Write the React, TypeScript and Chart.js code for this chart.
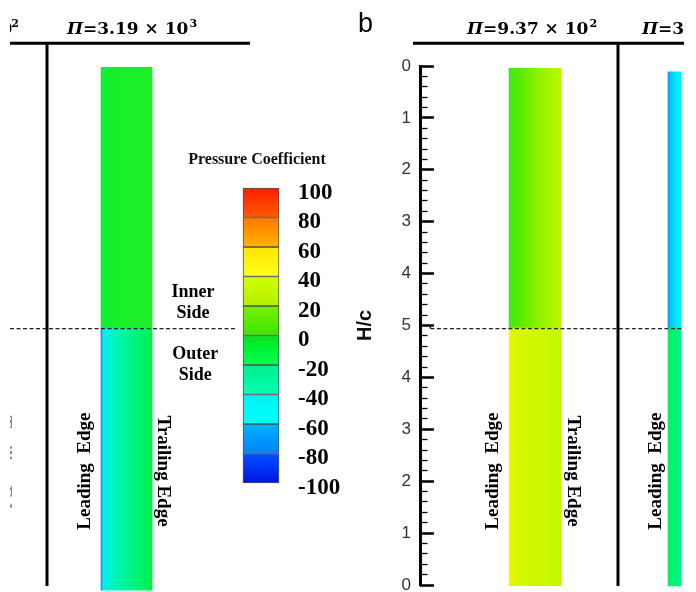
import React, { useEffect, useRef } from 'react';
import { Chart, registerables } from 'chart.js';

Chart.register(...registerables);

// ---------------- DATA ----------------
// H/c axis (value = distance from the outer tip; labels fold back at the junction H/c = 5)
const HC_TICK_VALUES = [0, 1, 2, 3, 4, 5, 6, 7, 8, 9, 10];
const HC_TICK_LABELS = ['0', '1', '2', '3', '4', '5', '4', '3', '2', '1', '0'];
const HC_MINOR_TICKS = Array.from({ length: 51 }, (_, i) => i / 5);

// Pressure-coefficient colour bar
const CP_LEVELS = [-100, -80, -60, -40, -20, 0, 20, 40, 60, 80, 100];
const CP_LABELS = ['-100', '-80', '-60', '-40', '-20', '0', '20', '40', '60', '80', '100'];

// Panels (Π numbers)
const PANEL_PI_MANTISSA = ['3.19', '9.37', '3'];
const PANEL_PI_EXPONENT = ['3', '2', ''];

// Blade strips: H/c spans of the outer / inner side of each panel
const OUTER_SPAN = [[-0.1, 4.95], [-0.013, 4.95], [-0.02, 4.95]];
const INNER_SPAN = [[4.95, 9.975], [4.95, 9.955], [4.95, 9.89]];

const CHORD_STATIONS = [0, 0.04, 0.25, 0.5, 0.75, 1];
const CP_OUTER = [
  [-72, -48, -36, -28, -20, -12],
  [50, 40, 36, 34, 32, 30],
  [-18, -19, -21, -22, -23, -24],
];
const CP_INNER = [
  [-6, -6, -5, -4, -4, -3],
  [2, 5, 11, 18, 24, 28],
  [-76, -66, -58, -54, -50, -48],
];

// ---------------- STYLE / LAYOUT ----------------
const STRIP_X = [-5.652, 2.215, 4.901]; // chord units from the H/c axis
const STRIP_WIDTH_PX = [51, 52, 13];
const COLORBAR_X = -3.062;
const COLORBAR_WIDTH_PX = 36;

const CP_BAND_TOP = ['#0050ff', '#00b4ff', '#00f0f0', '#00f08c', '#00e61e', '#78f000', '#d2ff00', '#ffe600', '#ff7800', '#ff1e00'];
const CP_BAND_BOTTOM = ['#0014e6', '#0080ff', '#00ffff', '#00ffb4', '#00ff50', '#3ce600', '#b4f000', '#ffff1e', '#ffb400', '#ff5a00'];

const CMAP_CP = [-90, -70, -50, -30, -10, 10, 30, 50, 70, 90];
const CMAP_RGB = [
  [0, 50, 245], [0, 150, 255], [0, 240, 248], [0, 245, 160], [0, 240, 60],
  [90, 235, 0], [195, 248, 0], [255, 245, 10], [255, 150, 0], [255, 60, 0],
];

const CONTENT_X = [-7.895, 5.084];
const RULE_Y = 10.44;
const FRAME_BOTTOM_Y = -0.02;
const RULE_A = [-7.895, -3.274];
const RULE_B = [-0.135, 5.084];
const VLINE_A = -7.183;
const VLINE_B = 3.813;
const DASH_A = [-7.895, -3.562];
const DASH_B = [0.2, 5.084];
const DASH_Y = 4.94;

const SERIF = '"Liberation Serif", "Times New Roman", serif';
const MATH = '"DejaVu Serif", serif';
const SANS = '"Liberation Sans", Arial, sans-serif';

function cpColor(v: number): string {
  if (v <= CMAP_CP[0]) return `rgb(${CMAP_RGB[0].join(',')})`;
  const n = CMAP_CP.length - 1;
  if (v >= CMAP_CP[n]) return `rgb(${CMAP_RGB[n].join(',')})`;
  let k = 0;
  while (v > CMAP_CP[k + 1]) k++;
  const t = (v - CMAP_CP[k]) / (CMAP_CP[k + 1] - CMAP_CP[k]);
  const c = CMAP_RGB[k].map((a, j) => Math.round(a + (CMAP_RGB[k + 1][j] - a) * t));
  return `rgb(${c.join(',')})`;
}

function stripFill(i: number, cps: number[]) {
  return (c: any) => {
    const chart = c.chart;
    const xs = chart.scales && chart.scales.x;
    if (!chart.chartArea || !xs) return cpColor(cps[2]);
    const cx = xs.getPixelForValue(STRIP_X[i]);
    const w = STRIP_WIDTH_PX[i];
    const g = chart.ctx.createLinearGradient(cx - w / 2, 0, cx + w / 2, 0);
    CHORD_STATIONS.forEach((s, k) => g.addColorStop(s, cpColor(cps[k])));
    return g;
  };
}

function drawPiTitle(ctx: CanvasRenderingContext2D, x: number, y: number, mant: string, exp: string) {
  ctx.textAlign = 'left';
  ctx.textBaseline = 'alphabetic';
  ctx.font = `italic bold 17px ${MATH}`;
  ctx.fillText('Π', x, y);
  x += ctx.measureText('Π').width;
  ctx.font = `bold 17px ${MATH}`;
  const rest = exp ? `=${mant} × 10` : `=${mant}`;
  ctx.fillText(rest, x, y);
  x += ctx.measureText(rest).width;
  if (exp) {
    ctx.font = `bold 11px ${MATH}`;
    ctx.fillText(exp, x + 1, y - 7);
  }
}

function rotText(ctx: CanvasRenderingContext2D, text: string, x: number, y: number, angle: number) {
  ctx.save();
  ctx.translate(x, y);
  ctx.rotate(angle);
  ctx.textAlign = 'center';
  ctx.textBaseline = 'middle';
  ctx.fillText(text, 0, 0);
  ctx.restore();
}

const decorPlugin = {
  id: 'figureDecor',
  afterDraw(chart: any) {
    const { ctx } = chart;
    const xs = chart.scales.x;
    const ys = chart.scales.y;
    const X = (v: number) => xs.getPixelForValue(v);
    const Y = (v: number) => ys.getPixelForValue(v);
    ctx.save();
    ctx.beginPath();
    ctx.rect(X(CONTENT_X[0]), 0, X(CONTENT_X[1]) - X(CONTENT_X[0]), chart.height);
    ctx.clip();

    // panel frames
    ctx.strokeStyle = '#000';
    ctx.lineWidth = 3;
    ctx.beginPath();
    ctx.moveTo(X(RULE_A[0]), Y(RULE_Y)); ctx.lineTo(X(RULE_A[1]), Y(RULE_Y));
    ctx.moveTo(X(RULE_B[0]), Y(RULE_Y)); ctx.lineTo(X(RULE_B[1]), Y(RULE_Y));
    ctx.moveTo(X(VLINE_A), Y(RULE_Y)); ctx.lineTo(X(VLINE_A), Y(FRAME_BOTTOM_Y));
    ctx.moveTo(X(VLINE_B), Y(RULE_Y)); ctx.lineTo(X(VLINE_B), Y(FRAME_BOTTOM_Y));
    ctx.stroke();

    // junction dashed lines
    ctx.strokeStyle = '#222';
    ctx.lineWidth = 1.3;
    ctx.setLineDash([4, 2.5]);
    ctx.beginPath();
    ctx.moveTo(X(DASH_A[0]), Y(DASH_Y)); ctx.lineTo(X(DASH_A[1]), Y(DASH_Y));
    ctx.moveTo(X(DASH_B[0]), Y(DASH_Y)); ctx.lineTo(X(DASH_B[1]), Y(DASH_Y));
    ctx.stroke();
    ctx.setLineDash([]);
    // small step joining the "5" tick to the dashed line
    ctx.lineWidth = 1.5;
    ctx.beginPath();
    ctx.moveTo(X(0.2), Y(5));
    ctx.lineTo(X(0.2), Y(DASH_Y));
    ctx.stroke();

    // titles
    ctx.fillStyle = '#000';
    const baseY = Y(10.61);
    drawPiTitle(ctx, X(-6.798), baseY, PANEL_PI_MANTISSA[0], PANEL_PI_EXPONENT[0]);
    drawPiTitle(ctx, X(0.905), baseY, PANEL_PI_MANTISSA[1], PANEL_PI_EXPONENT[1]);
    drawPiTitle(ctx, X(4.275), baseY, PANEL_PI_MANTISSA[2], PANEL_PI_EXPONENT[2]);
    // tail of the previous panel title
    ctx.font = `bold 11px ${MATH}`;
    ctx.textAlign = 'right';
    const supEnd = X(-7.722);
    ctx.fillText('2', supEnd, baseY - 7);
    const supW = ctx.measureText('2').width;
    ctx.font = `bold 17px ${MATH}`;
    ctx.fillText('10', supEnd - supW + 1, baseY);

    ctx.font = `27px ${SANS}`;
    ctx.textAlign = 'left';
    ctx.fillText('b', X(-1.194), Y(10.649));

    // colour bar caption
    ctx.font = `bold 16px ${SERIF}`;
    ctx.textAlign = 'center';
    ctx.textBaseline = 'middle';
    ctx.fillStyle = '#111';
    ctx.fillText('Pressure Coefficient', X(-3.139), Y(8.184));

    ctx.font = `bold 18px ${SERIF}`;
    ctx.fillStyle = '#000';
    ctx.fillText('Inner', X(-4.371), Y(5.642));
    ctx.fillText('Side', X(-4.371), Y(5.228));
    ctx.fillText('Outer', X(-4.33), Y(4.448));
    ctx.fillText('Side', X(-4.33), Y(4.034));

    // edge labels
    ctx.font = `bold 19px ${SERIF}`;
    const ly = Y(2.195);
    rotText(ctx, 'Leading  Edge', X(-6.451), ly, -Math.PI / 2);
    rotText(ctx, 'Trailing Edge', X(-4.959), ly, Math.PI / 2);
    rotText(ctx, 'Leading  Edge', X(1.415), ly, -Math.PI / 2);
    rotText(ctx, 'Trailing Edge', X(2.946), ly, Math.PI / 2);
    rotText(ctx, 'Leading  Edge', X(4.545), ly, -Math.PI / 2);
    // edge label of the neighbouring (cropped) panel
    ctx.fillStyle = '#888';
    rotText(ctx, 'Trailing Edge', X(-8.01), ly, Math.PI / 2);

    ctx.restore();
  },
};

const tickAxis = (weight: number, ticks: number[], len: number, width: number) => ({
  type: 'linear',
  position: 'left',
  weight,
  min: 0,
  max: 10,
  afterBuildTicks: (s: any) => { s.ticks = ticks.map((v) => ({ value: v })); },
  afterFit: (s: any) => { s.width = 0; },
  grid: {
    display: true,
    drawOnChartArea: false,
    drawTicks: true,
    tickLength: len,
    tickWidth: width,
    tickColor: '#000',
  },
  border: { display: false },
  ticks: { display: false, padding: 0 },
});

export default function App() {
  const ref = useRef<HTMLCanvasElement | null>(null);

  useEffect(() => {
    if (!ref.current) return;
    const stripSets: any[] = [];
    STRIP_X.forEach((sx, i) => {
      stripSets.push({
        label: `Outer side ${i}`,
        data: [{ x: sx, y: OUTER_SPAN[i] }],
        backgroundColor: stripFill(i, CP_OUTER[i]),
        barThickness: STRIP_WIDTH_PX[i],
        borderWidth: 0,
        grouped: false,
        clip: false,
        xAxisID: 'x',
        yAxisID: 'y',
      });
      stripSets.push({
        label: `Inner side ${i}`,
        data: [{ x: sx, y: INNER_SPAN[i] }],
        backgroundColor: stripFill(i, CP_INNER[i]),
        barThickness: STRIP_WIDTH_PX[i],
        borderWidth: 0,
        grouped: false,
        clip: false,
        xAxisID: 'x',
        yAxisID: 'y',
      });
    });
    const colorbar = {
      label: 'Pressure Coefficient',
      data: CP_LEVELS.slice(0, -1).map((lo, i) => ({ x: COLORBAR_X, y: [lo, CP_LEVELS[i + 1]] })),
      backgroundColor: (c: any) => {
        const chart = c.chart;
        const yc = chart.scales && chart.scales.yc;
        const i = c.dataIndex;
        if (!chart.chartArea || !yc || i === undefined) return '#0f0';
        const g = chart.ctx.createLinearGradient(0, yc.getPixelForValue(CP_LEVELS[i + 1]), 0, yc.getPixelForValue(CP_LEVELS[i]));
        g.addColorStop(0, CP_BAND_TOP[i]);
        g.addColorStop(1, CP_BAND_BOTTOM[i]);
        return g;
      },
      borderColor: 'rgba(50,50,50,0.85)',
      borderWidth: 1,
      borderSkipped: false,
      barThickness: COLORBAR_WIDTH_PX,
      grouped: false,
      clip: false,
      xAxisID: 'x',
      yAxisID: 'yc',
    };

    const chart = new Chart(ref.current, {
      type: 'bar',
      data: { datasets: [...stripSets, colorbar] as any },
      options: {
        responsive: false,
        animation: false,
        devicePixelRatio: 1,
        events: [],
        layout: { autoPadding: false, padding: { left: 298, top: 66, right: 0, bottom: 7 } },
        plugins: { legend: { display: false }, tooltip: { enabled: false } },
        scales: {
          x: { type: 'linear', display: false, offset: false, grid: { offset: false }, min: 0, max: 5.315 },
          yc: {
            type: 'linear',
            position: 'left',
            weight: 3,
            min: -169.15,
            max: 182.7,
            afterBuildTicks: (s: any) => { s.ticks = CP_LEVELS.map((v) => ({ value: v })); },
            afterFit: (s: any) => { s.width = 55; },
            grid: { display: false },
            border: { display: false },
            ticks: {
              autoSkip: false,
              crossAlign: 'far',
              labelOffset: 5,
              padding: 0,
              color: '#000',
              font: { family: 'Liberation Serif', size: 23, weight: 'bold', lineHeight: 0.4 },
              callback: (_v: any, i: number) => CP_LABELS[i],
            },
          },
          y: {
            type: 'linear',
            position: 'left',
            weight: 2,
            min: 0,
            max: 10,
            afterBuildTicks: (s: any) => { s.ticks = HC_TICK_VALUES.map((v) => ({ value: v })); },
            afterFit: (s: any) => { s.width = 67; },
            grid: {
              display: true,
              drawOnChartArea: false,
              drawTicks: true,
              tickLength: 9,
              tickWidth: 0,
              tickColor: 'rgba(0,0,0,0)',
            },
            border: { display: true, width: 3, color: '#000' },
            title: {
              display: true,
              text: 'H/c',
              color: '#111',
              padding: 0,
              font: { family: 'Liberation Sans', size: 20, weight: 'bold' },
            },
            ticks: {
              autoSkip: false,
              padding: 0,
              color: '#333',
              font: { family: 'Liberation Sans', size: 17, lineHeight: 0.4 },
              callback: (_v: any, i: number) => HC_TICK_LABELS[i],
            },
          },
          yM: tickAxis(1, HC_TICK_VALUES, -14, 2.5),
          ym: tickAxis(0, HC_MINOR_TICKS, -7.5, 1.3),
        },
      } as any,
      plugins: [decorPlugin],
    });
    return () => chart.destroy();
  }, []);

  return (
    <div style={{ position: 'absolute', left: 0, top: 0, width: 696, height: 592, background: '#fff' }}>
      <canvas ref={ref} width={696} height={592} style={{ display: 'block', width: 696, height: 592 }} />
    </div>
  );
}
